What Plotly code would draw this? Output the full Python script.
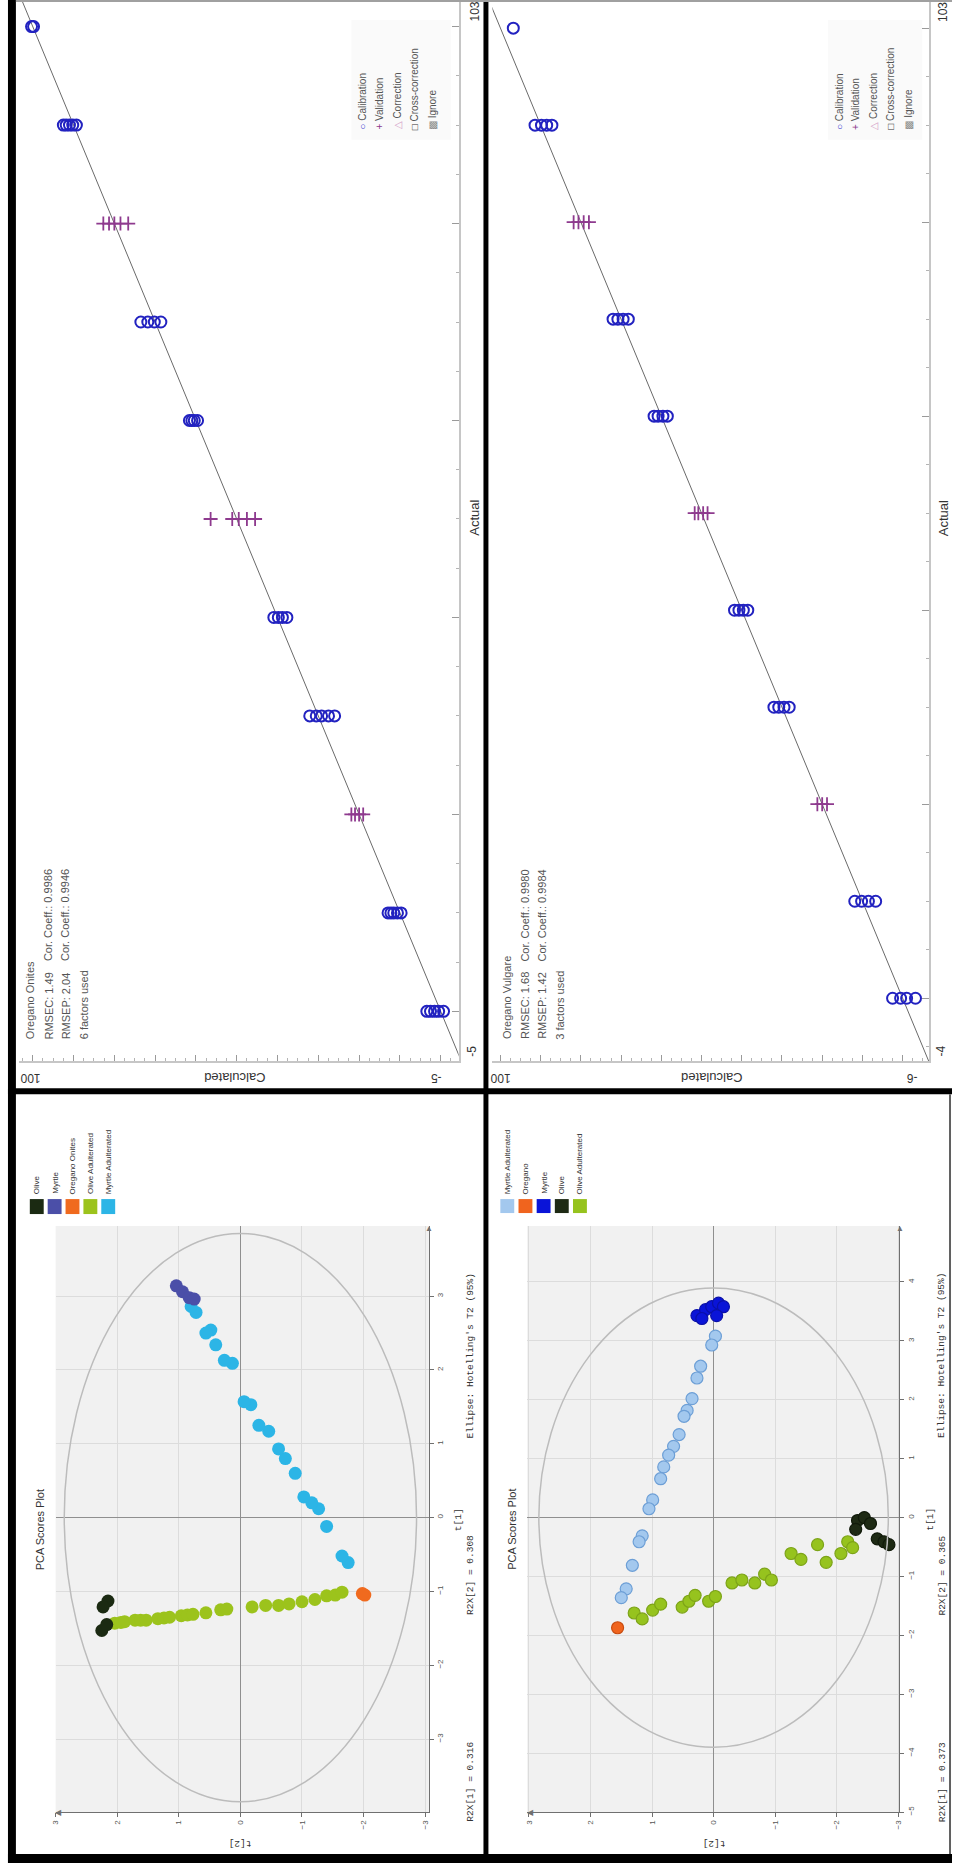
import plotly.graph_objects as go

W, H = 955, 1872

# ---------------- Calibration data (Actual vs Calculated) ----------------
onites_cal_actual = [100, 100, 90, 90, 90, 90, 90, 70, 70, 70, 70, 60, 60, 60, 60,
                     40, 40, 40, 40, 30, 30, 30, 30, 30, 10, 10, 10, 10, 10, 0, 0, 0, 0, 0]
onites_cal_calc = [99.8, 100.3, 89.3, 90.2, 91.0, 91.8, 92.5, 68.6, 70.2, 71.8, 73.5,
                   59.6, 60.4, 61.0, 61.6, 37.7, 38.8, 39.8, 40.9, 26.0, 27.5, 29.2, 30.5, 32.1,
                   9.7, 10.6, 11.5, 12.2, 12.9, -0.7, 0.5, 1.5, 2.5, 3.4]
onites_val_actual = [80, 80, 80, 80, 80, 50, 50, 50, 50, 50, 20, 20, 20, 20]
onites_val_calc = [76.6, 78.5, 80.0, 81.3, 82.7, 45.5, 47.5, 49.5, 51.1, 56.4, 19.0, 20.0, 21.0, 21.9]

vulgare_cal_actual = [100, 90, 90, 90, 90, 70, 70, 70, 70, 60, 60, 60, 60, 40, 40, 40, 40,
                      30, 30, 30, 30, 10, 10, 10, 10, 0, 0, 0, 0]
vulgare_cal_calc = [96.8, 87.2, 88.5, 89.8, 91.4, 68.2, 69.5, 70.8, 72.0, 58.5, 59.6, 60.8, 61.8,
                    38.5, 39.6, 40.7, 41.8, 28.2, 29.5, 30.8, 32.0, 6.7, 8.5, 10.2, 11.9,
                    -3.2, -1.0, 0.5, 2.5]
vulgare_val_actual = [80, 80, 80, 80, 50, 50, 50, 50, 20, 20, 20]
vulgare_val_calc = [78.0, 79.3, 80.6, 81.8, 48.5, 49.6, 50.8, 51.7, 18.8, 20.0, 21.2]

target_line = [-10, 110]

onites_stats = ["Oregano Onites", "RMSEC: 1.49", "Cor. Coeff.: 0.9986",
                "RMSEP: 2.04", "Cor. Coeff.: 0.9946", "6 factors used"]
vulgare_stats = ["Oregano Vulgare", "RMSEC: 1.68", "Cor. Coeff.: 0.9980",
                 "RMSEP: 1.42", "Cor. Coeff.: 0.9984", "3 factors used"]
cal_legend = ["Calibration", "Validation", "Correction", "Cross-correction", "Ignore"]

# ---------------- PCA scores, Oregano Onites (t[2], t[1]) ----------------
on_olive_t2 = [2.15, 2.23, 2.25, 2.17]
on_olive_t1 = [-1.13, -1.21, -1.53, -1.45]
on_myrtle_t2 = [1.04, 0.94, 0.83, 0.75]
on_myrtle_t1 = [3.14, 3.06, 2.98, 2.96]
on_oregano_t2 = [-2.02, -1.98]
on_oregano_t1 = [-1.05, -1.03]
on_oliveadul_t2 = [2.04, 1.94, 1.88, 1.71, 1.62, 1.53, 1.34, 1.24, 1.15, 0.96, 0.86, 0.77, 0.56,
                   0.32, 0.22, -0.19, -0.41, -0.62, -0.79, -1.0, -1.21, -1.40, -1.54, -1.65]
on_oliveadul_t1 = [-1.43, -1.42, -1.41, -1.39, -1.39, -1.39, -1.37, -1.36, -1.35, -1.33, -1.32,
                   -1.31, -1.29, -1.25, -1.24, -1.21, -1.19, -1.19, -1.17, -1.14, -1.11, -1.06,
                   -1.05, -1.01]
on_myrtleadul_t2 = [-1.75, -1.65, -1.40, -1.27, -1.16, -1.03, -0.89, -0.73, -0.62, -0.46, -0.30,
                    -0.17, -0.06, 0.13, 0.26, 0.40, 0.48, 0.56, 0.72, 0.80]
on_myrtleadul_t1 = [-0.61, -0.52, -0.12, 0.12, 0.20, 0.28, 0.60, 0.80, 0.93, 1.17, 1.25, 1.53,
                    1.57, 2.09, 2.13, 2.34, 2.54, 2.50, 2.78, 2.86]
on_r2x = ["R2X[1] = 0.316", "R2X[2] = 0.308"]

# ---------------- PCA scores, Oregano Vulgare (t[2], t[1]) ----------------
vu_myrtle_t2 = [0.27, 0.13, 0.03, -0.08, -0.16, 0.19, -0.05]
vu_myrtle_t1 = [3.43, 3.53, 3.58, 3.64, 3.58, 3.38, 3.43]
vu_myrtleadul_t2 = [-0.03, 0.03, 0.21, 0.27, 0.35, 0.43, 0.48, 0.56, 0.65, 0.73, 0.81, 0.86,
                    0.99, 1.05, 1.16, 1.21, 1.32, 1.42, 1.50]
vu_myrtleadul_t1 = [3.08, 2.93, 2.57, 2.37, 2.02, 1.82, 1.72, 1.41, 1.21, 1.06, 0.86, 0.66,
                    0.30, 0.15, -0.31, -0.41, -0.81, -1.21, -1.36]
vu_oregano_t2 = [1.56]
vu_oregano_t1 = [-1.87]
vu_oliveadul_t2 = [1.29, 1.16, 0.99, 0.86, 0.51, 0.40, 0.30, 0.08, -0.03, -0.30, -0.46, -0.67,
                   -0.83, -0.94, -1.26, -1.42, -1.69, -1.83, -2.07, -2.18, -2.26]
vu_oliveadul_t1 = [-1.62, -1.72, -1.57, -1.47, -1.52, -1.42, -1.32, -1.42, -1.34, -1.11, -1.06,
                   -1.11, -0.96, -1.06, -0.61, -0.71, -0.46, -0.76, -0.61, -0.41, -0.51]
vu_olive_t2 = [-2.34, -2.45, -2.55, -2.66, -2.77, -2.85, -2.31]
vu_olive_t1 = [-0.05, 0.0, -0.10, -0.36, -0.41, -0.46, -0.20]
vu_r2x = ["R2X[1] = 0.373", "R2X[2] = 0.365"]


def px(x):
    return x / W


def py(y):
    return 1 - y / H


fig = go.Figure()

CAL_BLUE = "#2222c0"
VAL_PURPLE = "#8e3a8e"

# ---- calibration traces ----
for xa, ya, ca, cc, va, vc in [("x", "y", onites_cal_actual, onites_cal_calc, onites_val_actual, onites_val_calc),
                               ("x2", "y2", vulgare_cal_actual, vulgare_cal_calc, vulgare_val_actual, vulgare_val_calc)]:
    fig.add_trace(go.Scatter(x=target_line, y=target_line, mode="lines", xaxis=xa, yaxis=ya,
                             line=dict(color="#6a6a6a", width=1), hoverinfo="skip"))
    fig.add_trace(go.Scatter(x=cc, y=ca, mode="markers", xaxis=xa, yaxis=ya,
                             marker=dict(symbol="circle-open", size=11, color=CAL_BLUE,
                                         line=dict(width=2, color=CAL_BLUE))))
    fig.add_trace(go.Scatter(x=vc, y=va, mode="markers", xaxis=xa, yaxis=ya,
                             marker=dict(symbol="cross-thin-open", size=10, color=VAL_PURPLE,
                                         line=dict(width=1.8, color=VAL_PURPLE))))

# ---- PCA traces ----
on_classes = [
    (on_oliveadul_t2, on_oliveadul_t1, "#9cc31c"),
    (on_olive_t2, on_olive_t1, "#1b2a12"),
    (on_myrtleadul_t2, on_myrtleadul_t1, "#2cb5e6"),
    (on_myrtle_t2, on_myrtle_t1, "#4b4fa8"),
    (on_oregano_t2, on_oregano_t1, "#f06a1e"),
]
for t2, t1, col in on_classes:
    fig.add_trace(go.Scatter(x=t2, y=t1, mode="markers", xaxis="x3", yaxis="y3",
                             marker=dict(size=13, color=col, line=dict(width=0))))

vu_classes = [
    (vu_oliveadul_t2, vu_oliveadul_t1, "#96c31e", "#7da418"),
    (vu_olive_t2, vu_olive_t1, "#1e2a14", "#111a0a"),
    (vu_myrtleadul_t2, vu_myrtleadul_t1, "#a3c8ee", "#6d9fd6"),
    (vu_myrtle_t2, vu_myrtle_t1, "#0a14d8", "#0a10a8"),
    (vu_oregano_t2, vu_oregano_t1, "#f0641e", "#c84c10"),
]
for t2, t1, col, lc in vu_classes:
    fig.add_trace(go.Scatter(x=t2, y=t1, mode="markers", xaxis="x4", yaxis="y4",
                             marker=dict(size=12, color=col, line=dict(width=1.2, color=lc))))

# ---- axes ----
cal_x_common = dict(side="bottom", showgrid=False, zeroline=False, showline=True,
                    linecolor="#c6c6c6", linewidth=2, ticks="inside", ticklen=6,
                    tickcolor="#9a9a9a", tick0=0, dtick=10,
                    minor=dict(dtick=2.5, ticklen=3, tickcolor="#b4b4b4", ticks="inside"),
                    showticklabels=False, fixedrange=True)
cal_y_common = dict(side="right", showgrid=False, zeroline=False, showline=True,
                    linecolor="#c6c6c6", linewidth=2, ticks="inside", ticklen=7,
                    tickcolor="#9a9a9a", tick0=0, dtick=20,
                    minor=dict(dtick=5, ticklen=3, tickcolor="#b4b4b4", ticks="inside"),
                    showticklabels=False, fixedrange=True)
pca_common = dict(showgrid=True, gridcolor="#dcdcdc", gridwidth=1, zeroline=True,
                  zerolinecolor="#8f8f8f", zerolinewidth=1, showline=True, linecolor="#707070",
                  linewidth=1, ticks="outside", ticklen=4, tickcolor="#707070", tick0=0, dtick=1,
                  tickangle=-90, tickfont=dict(family="Liberation Sans", size=8, color="#555"))

fig.update_layout(
    xaxis=dict(domain=[px(15), px(458)], range=[103.4, -4.4], anchor="y", **cal_x_common),
    yaxis=dict(domain=[py(1063), py(0)], range=[-5.07, 102.7], anchor="x", **cal_y_common),
    xaxis2=dict(domain=[px(492), px(932)], range=[102.0, -6.6], anchor="y2", **cal_x_common),
    yaxis2=dict(domain=[py(1063), py(0)], range=[-6.5, 102.9], anchor="x2", **cal_y_common),
    xaxis3=dict(domain=[px(52), px(428)], range=[3.0, -3.06], anchor="y3", side="bottom", **pca_common),
    yaxis3=dict(domain=[py(1815), py(1228)], range=[-3.99, 3.95], anchor="x3", side="right", **pca_common),
    xaxis4=dict(domain=[px(527), px(902)], range=[3.03, -3.02], anchor="y4", side="bottom", **pca_common),
    yaxis4=dict(domain=[py(1815), py(1228)], range=[-5.0, 4.95], anchor="x4", side="right", **pca_common),
    width=W, height=H, margin=dict(l=0, r=0, t=0, b=0),
    paper_bgcolor="white", plot_bgcolor="white", showlegend=False,
)

shapes = []
# PCA plot backgrounds and Hotelling ellipses
for xa, ya, ex, ey in [("x3", "y3", 2.86, 3.85), ("x4", "y4", 2.84, 3.9)]:
    shapes.append(dict(type="rect", xref=xa + " domain", yref=ya + " domain", x0=0, x1=1, y0=0, y1=1,
                       fillcolor="#f1f1f1", line=dict(width=0), layer="below"))
    shapes.append(dict(type="circle", xref=xa, yref=ya, x0=-ex, x1=ex, y0=-ey, y1=ey,
                       line=dict(color="#bcbcbc", width=1.5)))


def rect(x0, x1, y0, y1, color="black", layer="above"):
    return dict(type="rect", xref="paper", yref="paper", x0=px(x0), x1=px(x1), y0=py(y1), y1=py(y0),
                fillcolor=color, line=dict(width=0), layer=layer)


# faint legend boxes of calibration panels
shapes += [rect(350, 450, 20, 140, "#fafafa", "below"), rect(830, 925, 20, 140, "#fafafa", "below")]

# frame lines
shapes += [
    rect(4, 12, 0, 1866),
    rect(483, 488, 0, 1866),
    rect(4, 955, 1090, 1096),
    rect(4, 955, 1857, 1866),
    rect(12, 955, 0, 2, "#a0a0a0"),
    rect(952, 954, 1096, 1857, "#606060"),
]

# PCA legend squares
on_leg_cols = ["#1b2a12", "#4b4fa8", "#f06a1e", "#9cc31c", "#2cb5e6"]
vu_leg_cols = ["#a3c8ee", "#f0641e", "#0a14d8", "#1e2a14", "#96c31e"]
for i, c in enumerate(on_leg_cols):
    cx = 33 + 18 * i
    shapes.append(rect(cx - 7, cx + 7, 1201, 1216, c))
for i, c in enumerate(vu_leg_cols):
    cx = 507 + 18.3 * i
    shapes.append(rect(cx - 7, cx + 7, 1201, 1215, c))

fig.update_layout(shapes=shapes)

anns = []


def ann(x, y, text, angle=-90, size=11, color="#444", xa="center", ya="middle", family="Liberation Sans"):
    anns.append(dict(x=px(x), y=py(y), xref="paper", yref="paper", text=text, showarrow=False,
                     textangle=angle, xanchor=xa, yanchor=ya,
                     font=dict(family=family, size=size, color=color)))


# calibration panels texts
cal_text_pos = [
    # off, stats, actual-min label, calc-min label, x of right labels, x of "100"
    (0, onites_stats, "-5", "-5", 474, 27),
    (480, vulgare_stats, "-4", "-6", 946, 500),
]
for off, stats, amin, cmin, xr, x100 in cal_text_pos:
    ann(xr, 12, "103", size=12, color="#333")
    ann(xr, 519, "Actual", size=13, color="#333")
    ann(xr - 2, 1053, amin, size=12, color="#333")
    ann(x100, 1079, "100", angle=180, size=12, color="#333")
    ann(off + 233, 1079, "Calculated", angle=180, size=13, color="#333")
    ann(off + 435, 1079, cmin, angle=180, size=12, color="#333")
    # statistics block
    ann(off + 27, 1043, stats[0], size=11, color="#555", ya="bottom")
    ann(off + 45, 1043, stats[1], size=11, color="#555", ya="bottom")
    ann(off + 45, 965, stats[2], size=11, color="#555", ya="bottom")
    ann(off + 62, 1043, stats[3], size=11, color="#555", ya="bottom")
    ann(off + 62, 965, stats[4], size=11, color="#555", ya="bottom")
    ann(off + 80, 1043, stats[5], size=11, color="#555", ya="bottom")
    # legend
    syms = [("○", "#3a3ad0"), ("+", VAL_PURPLE), ("△", "#d4a0c8"), ("□", "#333333"), ("▩", "#8a8a8a")]
    for i, (lab, (s, sc)) in enumerate(zip(cal_legend, syms)):
        ann(off + 361 + 17.5 * i, 132, f'<span style="color:{sc}">{s}</span> {lab}', size=10,
            color="#555", ya="bottom")

# PCA texts
for off, r2x, xz in [(0, on_r2x, 238), (475, vu_r2x, 715)]:
    ann(off + 36, 1532, "PCA Scores Plot", size=11, color="#333")
    ann(off + 470, 1785, r2x[0], size=9.5, color="#333", family="Liberation Mono")
    ann(off + 470, 1578, r2x[1], size=9.5, color="#333", family="Liberation Mono")
    ann(off + 458, 1522, "t[1]", size=9.5, color="#333", family="Liberation Mono")
    ann(off + 470, 1358, "Ellipse: Hotelling's T2 (95%)", size=9.5, color="#333", family="Liberation Mono")
    ann(xz, 1847, "t[2]", angle=180, size=9.5, color="#333", family="Liberation Mono")
    # axis arrows
    ann(off + 428, 1230, "▲", angle=0, size=8, color="#707070")
    ann(off + 55, 1815, "◀", angle=0, size=8, color="#707070")

on_leg_labels = ["Olive", "Myrtle", "Oregano Onites", "Olive Adulterated", "Myrtle Adulterated"]
vu_leg_labels = ["Myrtle Adulterated", "Oregano", "Myrtle", "Olive", "Olive Adulterated"]
for i, lab in enumerate(on_leg_labels):
    ann(33 + 18 * i, 1198, lab, size=8, color="#333", ya="bottom")
for i, lab in enumerate(vu_leg_labels):
    ann(507 + 18.3 * i, 1198, lab, size=8, color="#333", ya="bottom")

fig.update_layout(annotations=anns)

fig.write_html("out.html")
